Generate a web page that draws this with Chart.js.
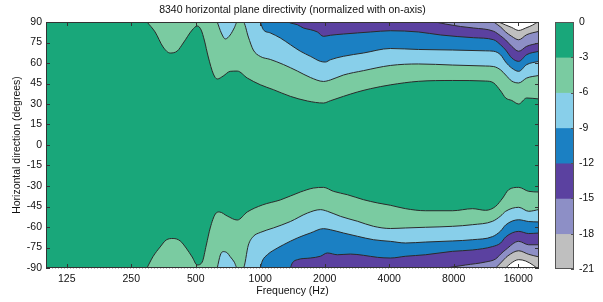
<!DOCTYPE html>
<html>
<head>
<title>8340 horizontal plane directivity</title>
<script src="https://cdn.jsdelivr.net/npm/chart.js"></script>
<style>
  body { margin: 0; background: #fff; }
  #wrap { position: relative; width: 603px; height: 302px; }
  #main { position: absolute; left: 0; top: 0; }
  #cbar { position: absolute; left: 548px; top: 0; }
</style>
</head>
<body>
<div id="wrap">
  <canvas id="main" width="603" height="302"></canvas>
  <canvas id="cbar" width="55" height="302"></canvas>
</div>

<script>
// contour levels in dB (normalized to on-axis)
const levels = [0, -3, -6, -9, -12, -15, -18, -21];
const freqTicks = [125, 250, 500, 1000, 2000, 4000, 8000, 16000];
const angleTicks = [-90, -75, -60, -45, -30, -15, 0, 15, 30, 45, 60, 75, 90];
const cbarTicks = [0, -3, -6, -9, -12, -15, -18, -21];

// contour lines, [frequency Hz, angle deg], upper half (positive angles)
const up3 = [[296,90],[323,82.7],[352,71.7],[380,67.3],[410,68.8],[437,74.6],[481,84.1],[508,87.1],[530,84.1],[548,76.8],[572,64.4],[604,52],[630,48.3],[672,50.5],[724,53.9],[781,54.1],[870,49],[1000,44.1],[1151,40.5],[1382,35.6],[1660,32.2],[1972,30.7],[2126,32.4],[2445,35.6],[2843,38.8],[3270,41.2],[4050,44],[5480,46.6],[7900,47.2],[11270,46.8],[12290,45.4],[13250,39.5],[13980,34.4],[14920,32.6],[16080,30],[17520,34.4],[20000,33.7]];
const up6 = [[630,90],[658,82],[687,77.6],[724,80.5],[756,85.6],[781,90],[833,90],[880,79],[928,69.5],[1000,64.8],[1114,62.6],[1282,58.9],[1491,54.1],[1714,49.4],[1972,46.5],[2126,47.6],[2445,51.2],[3030,54.4],[4050,58.2],[5480,59.3],[7900,58.5],[11270,57.8],[12290,57.4],[13250,54.9],[13980,51.2],[14920,46.8],[16080,45.4],[17520,49],[20000,50.9]];
const up9 = [[1000,90],[1034,84.4],[1114,82],[1241,78.3],[1382,73.4],[1539,68.6],[1714,64.9],[1909,61.2],[2014,60.7],[2126,62.4],[2445,64.9],[3030,67.3],[4050,70.6],[5480,69.9],[7900,69.5],[11270,68.9],[12290,68.6],[13250,65.9],[13980,60.7],[14920,56.3],[16080,53.9],[17520,58.8],[20000,61.2]];
const up12 = [[1353,90],[1382,89.3],[1491,88],[1590,85.6],[1714,84.4],[1848,82.7],[1972,79.5],[2126,80.3],[2445,81.2],[2843,82],[3270,82.7],[4050,83.6],[5480,82.7],[6950,80.5],[9910,78.5],[12290,77],[13250,73.2],[13980,69.5],[14920,63.7],[16080,61.2],[17520,66.1],[20000,68.6]];
const up15 = [[6580,90],[7330,88.5],[8610,86.7],[9910,85.6],[12290,83.2],[13250,79.8],[13980,76.8],[14920,72.2],[16080,68.6],[17520,72.2],[20000,74.6]];
const up18 = [[12290,90],[13250,86.3],[13980,82.7],[14920,79.5],[16080,77],[17520,80.7],[20000,83.2]];
const up21 = [[12970,90],[13980,87.8],[14920,86],[16080,83.8],[17340,85.6],[18700,87.8],[19730,90]];

// lower half (negative angles)
const low3 = [[296,-90],[316,-81.6],[341,-74.6],[364,-69.5],[392,-68.4],[423,-70.2],[451,-75.4],[481,-81.9],[508,-87.8],[536,-85.6],[560,-73.2],[584,-60.7],[617,-50.5],[644,-49],[702,-52],[781,-54.9],[870,-49],[1022,-43.9],[1241,-40.2],[1539,-34.4],[1770,-31.5],[1972,-31],[2196,-33.9],[2553,-36.4],[3030,-40],[3526,-42.4],[4050,-44.1],[4770,-46.6],[5910,-48.1],[7900,-48.1],[9800,-46.6],[11270,-47.8],[12550,-44.9],[13540,-38.8],[14440,-32.7],[16080,-31],[17900,-33.9],[20000,-34.4]];
const low6 = [[630,-90],[651,-80.5],[672,-78],[702,-79],[724,-81.7],[756,-85.6],[781,-90],[833,-90],[880,-73.2],[928,-66.9],[1000,-64],[1151,-60.7],[1382,-56],[1660,-49.8],[1909,-47.3],[2058,-48.5],[2367,-52.2],[2843,-55.8],[3378,-59.5],[4050,-61.1],[4770,-60.7],[5910,-60.2],[7900,-59.5],[9800,-58.3],[12150,-55.8],[13250,-51.9],[13980,-48.5],[16080,-45.6],[17900,-48.5],[20000,-47.2]];
const low9 = [[1000,-90],[1022,-84.9],[1079,-80.3],[1202,-75.4],[1282,-73],[1491,-68],[1714,-64.4],[1972,-61.2],[2126,-62],[2445,-64.4],[2843,-66.8],[3378,-69.3],[4050,-70.5],[4770,-71.7],[5910,-71],[7900,-70.2],[9800,-69.3],[12150,-67],[13250,-62.9],[13980,-58.5],[16080,-54.7],[17900,-56],[20000,-56.3]];
const low12 = [[1382,-90],[1412,-86.3],[1491,-83.9],[1714,-82.7],[1909,-81.4],[2058,-79],[2292,-80.3],[2636,-79.8],[3030,-80.7],[3526,-82.2],[4050,-82.7],[4770,-81.4],[5910,-80.3],[7900,-77.8],[9800,-76.8],[12150,-74.3],[13250,-71.7],[13980,-67.3],[16080,-63.2],[17900,-64.8],[20000,-64.4]];
const low15 = [[7330,-90],[9090,-87.8],[11270,-85.6],[12550,-83.4],[13250,-79.8],[13980,-76.6],[16080,-70.5],[17900,-73],[20000,-73]];
const low18 = [[12550,-90],[13250,-86.3],[14290,-81.2],[16080,-77.4],[17900,-80],[20000,-81.9]];
const low21 = [[13980,-90],[14750,-86.7],[16080,-83.9],[17340,-84.9],[18890,-88.2],[19530,-90]];

const upper = [up3, up6, up9, up12, up15, up18, up21];
const lower = [low3, low6, low9, low12, low15, low18, low21];

// band colours, 0..-3 first, below -21 last
const bandColors = ['#19a77a', '#7acba1', '#88cfea', '#1b80c3', '#5b41a0', '#8d8fc6', '#bfbfbf', '#ffffff'];
const lineColor = '#2b2b2b';
const textColor = '#111';
Chart.defaults.font.family = '"Liberation Sans", Arial, sans-serif';
Chart.defaults.font.size = 10.5;
Chart.defaults.color = textColor;

const datasets = [];
upper.forEach((pts, i) => {
  datasets.push({
    data: pts.map(([f, a]) => ({ x: f, y: a })),
    fill: 'end',
    backgroundColor: bandColors[i + 1],
    order: 100 - i
  });
  datasets.push({
    data: lower[i].map(([f, a]) => ({ x: f, y: a })),
    fill: 'start',
    backgroundColor: bandColors[i + 1],
    order: 100 - i
  });
});

const framePlugin = {
  id: 'frame',
  beforeDatasetsDraw(chart) {
    const { ctx, chartArea: a } = chart;
    ctx.save();
    ctx.fillStyle = bandColors[0];
    ctx.fillRect(a.left, a.top, a.width, a.height);
    ctx.restore();
  },
  afterDraw(chart) {
    const { ctx, chartArea: a, scales: { x, y } } = chart;
    ctx.save();
    ctx.strokeStyle = '#333';
    ctx.lineWidth = 1;
    ctx.beginPath();
    freqTicks.forEach(v => {
      const px = Math.round(x.getPixelForValue(v)) + 0.5;
      ctx.moveTo(px, a.bottom); ctx.lineTo(px, a.bottom - 4);
      ctx.moveTo(px, a.top); ctx.lineTo(px, a.top + 4);
    });
    angleTicks.forEach(v => {
      const py = Math.round(y.getPixelForValue(v)) + 0.5;
      ctx.moveTo(a.left, py); ctx.lineTo(a.left + 4, py);
      ctx.moveTo(a.right, py); ctx.lineTo(a.right - 4, py);
    });
    ctx.stroke();
    ctx.strokeRect(a.left + 0.5, a.top + 0.5, a.width - 1, a.height - 1);
    ctx.restore();
  }
};

new Chart(document.getElementById('main'), {
  type: 'line',
  data: { datasets },
  options: {
    responsive: false,
    animation: false,
    layout: { padding: { left: 0, right: 64, top: 0, bottom: 0 } },
    plugins: {
      legend: { display: false },
      tooltip: { enabled: false },
      title: {
        display: true,
        text: '8340 horizontal plane directivity (normalized with on-axis)',
        fullSize: false,
        font: { size: 10.5, weight: 'normal' },
        color: textColor,
        padding: { top: 4.3, bottom: 5.1 }
      }
    },
    elements: {
      point: { radius: 0 },
      line: { borderWidth: 1, borderColor: lineColor, cubicInterpolationMode: 'monotone' }
    },
    scales: {
      x: {
        type: 'logarithmic',
        min: 100,
        max: 20000,
        z: 1,
        afterBuildTicks: s => { s.ticks = freqTicks.map(v => ({ value: v })); },
        afterFit: s => { s.height = 34; },
        ticks: { callback: v => String(v), autoSkip: false, maxRotation: 0, padding: 5 },
        grid: { color: 'rgba(30,30,30,0.3)', drawTicks: false },
        border: { display: false, dash: [1, 2] },
        title: { display: true, text: 'Frequency (Hz)', padding: { top: 0, bottom: 4.5 } }
      },
      y: {
        min: -90,
        max: 90,
        z: 1,
        afterBuildTicks: s => { s.ticks = angleTicks.map(v => ({ value: v })); },
        afterFit: s => { s.width = 46; },
        ticks: { padding: 4 },
        grid: { color: 'rgba(30,30,30,0.3)', drawTicks: false },
        border: { display: false, dash: [1, 2] },
        title: { display: true, text: 'Horizontal direction (degrees)', padding: { top: 11, bottom: 0 } }
      }
    }
  },
  plugins: [framePlugin]
});

// colour bar
const cbarFrame = {
  id: 'cbarFrame',
  afterDraw(chart) {
    const { ctx, chartArea: a, scales: { y } } = chart;
    ctx.save();
    ctx.strokeStyle = '#555';
    ctx.lineWidth = 1;
    ctx.beginPath();
    cbarTicks.forEach(v => {
      const py = Math.round(y.getPixelForValue(v)) + 0.5;
      ctx.moveTo(a.right, py); ctx.lineTo(a.right - 3, py);
    });
    ctx.stroke();
    ctx.strokeRect(a.left + 0.5, a.top + 0.5, a.width - 1, a.height - 1);
    ctx.restore();
  }
};

new Chart(document.getElementById('cbar'), {
  type: 'bar',
  data: {
    labels: [''],
    datasets: levels.slice(1).map((lo, i) => ({
      data: [[lo, levels[i]]],
      backgroundColor: bandColors[i],
      borderWidth: 0,
      grouped: false,
      barPercentage: 1,
      categoryPercentage: 1
    }))
  },
  options: {
    responsive: false,
    animation: false,
    layout: { padding: { left: 7, right: 0, top: 22, bottom: 33 } },
    plugins: { legend: { display: false }, tooltip: { enabled: false } },
    scales: {
      x: { display: false },
      y: {
        position: 'right',
        min: -21,
        max: 0,
        afterBuildTicks: s => { s.ticks = cbarTicks.map(v => ({ value: v })); },
        afterFit: s => { s.width = 29; },
        ticks: { padding: 5 },
        grid: { display: false, drawTicks: false },
        border: { display: false }
      }
    }
  },
  plugins: [cbarFrame]
});
</script>
</body>
</html>
